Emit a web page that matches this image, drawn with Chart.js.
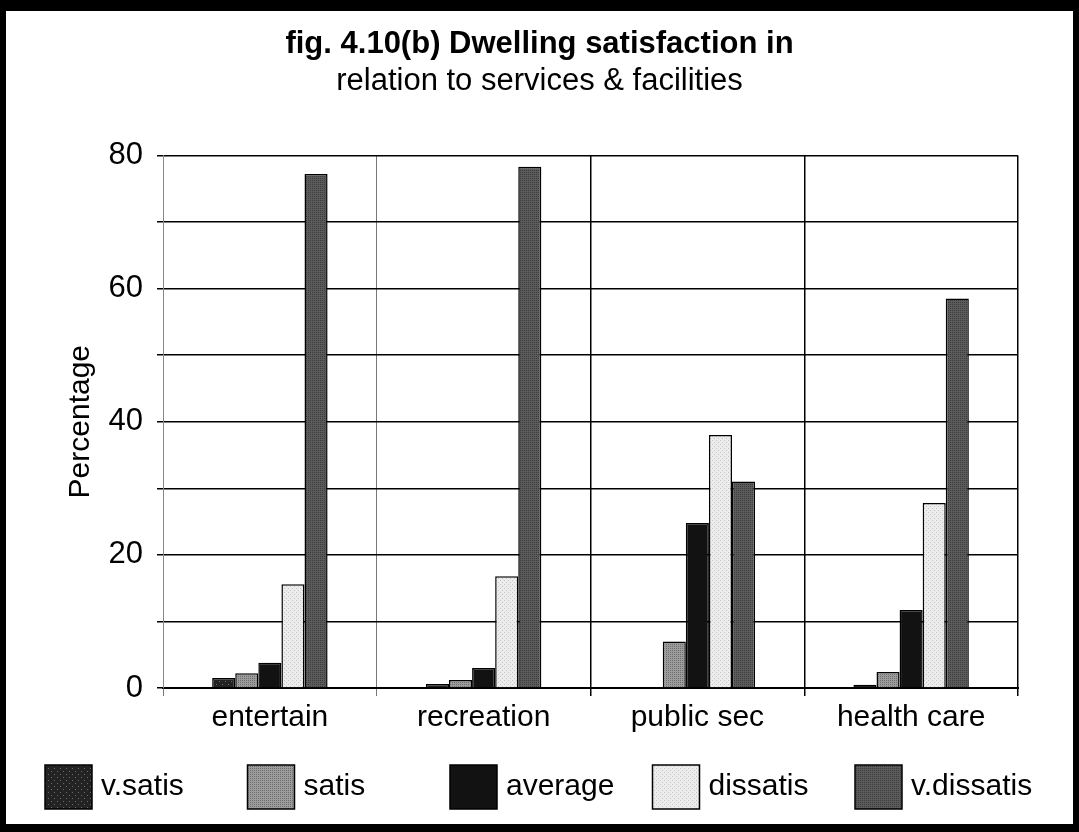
<!DOCTYPE html>
<html>
<head>
<meta charset="utf-8">
<script src="https://cdn.jsdelivr.net/npm/chart.js@4.4.1/dist/chart.umd.min.js"></script>
<style>
html,body{margin:0;padding:0;background:#fff;}
#wrap{width:1079px;height:832px;position:relative;}
</style>
</head>
<body>
<div id="wrap"><canvas id="c" width="1079" height="832"></canvas></div>
<script>
const categories = ["entertain", "recreation", "public sec", "health care"];
const seriesNames = ["v.satis", "satis", "average", "dissatis", "v.dissatis"];
const vSatis     = [1.5, 0.6, 0.0, 0.5];
const satis      = [2.2, 1.2, 7.0, 2.4];
const average    = [3.8, 3.0, 24.8, 11.7];
const dissatis   = [15.6, 16.8, 38.0, 27.8];
const vDissatis  = [77.2, 78.3, 31.0, 58.5];
const yTickLabels = [0, 20, 40, 60, 80];

const seriesValues = [vSatis, satis, average, dissatis, vDissatis];
const FONT = "'Liberation Sans', Arial, sans-serif";

// textured fills (deterministic tiles) imitating the scanned hatch patterns
function makePattern(base, dot, step, offsetRows) {
  const t = document.createElement('canvas');
  t.width = step * 2; t.height = step * 2;
  const g = t.getContext('2d');
  g.fillStyle = base; g.fillRect(0, 0, t.width, t.height);
  g.fillStyle = dot;
  g.fillRect(0, 0, 1, 1);
  g.fillRect(step, step, 1, 1);
  if (offsetRows) { g.fillRect(step, 0, 1, 1); g.fillRect(0, step, 1, 1); }
  return document.createElement('canvas').getContext('2d').createPattern(t, 'repeat');
}
const fills = [
  makePattern('#232323', '#6a6a6a', 3, false),
  makePattern('#9c9c9c', '#6e6e6e', 2, true),
  '#121212',
  makePattern('#ececec', '#c4c4c4', 2, false),
  makePattern('#5c5c5c', '#3a3a3a', 2, true)
];

const framePlugin = {
  id: 'frame',
  afterDraw(chart) {
    const ctx = chart.ctx;
    ctx.save();
    ctx.fillStyle = '#000';
    ctx.fillRect(0, 0, 1079, 11);
    ctx.fillRect(0, 0, 6, 832);
    ctx.fillRect(1073, 0, 6, 832);
    ctx.fillRect(0, 824, 1079, 8);
    ctx.restore();
  }
};

const legendPlugin = {
  id: 'customLegend',
  afterDraw(chart) {
    const ctx = chart.ctx;
    ctx.save();
    chart.data.datasets.forEach((ds, i) => {
      const x = 45 + 202.5 * i;
      const y = 765;
      ctx.fillStyle = ds.backgroundColor;
      ctx.fillRect(x, y, 47, 44);
      ctx.lineWidth = 1.5;
      ctx.strokeStyle = '#000';
      ctx.strokeRect(x, y, 47, 44);
      ctx.fillStyle = '#000';
      ctx.font = "30px " + FONT;
      ctx.textBaseline = 'middle';
      ctx.textAlign = 'left';
      ctx.fillText(ds.label, x + 56, y + 22);
    });
    ctx.restore();
  }
};

new Chart(document.getElementById('c'), {
  type: 'bar',
  data: {
    labels: categories,
    datasets: seriesNames.map((n, i) => ({
      label: n,
      data: seriesValues[i],
      backgroundColor: fills[i],
      borderColor: '#000',
      borderWidth: 1.5,
      barPercentage: 1.0,
      categoryPercentage: 0.54
    }))
  },
  options: {
    responsive: false,
    animation: false,
    devicePixelRatio: 1,
    layout: { padding: { left: 6, right: 6, top: 0, bottom: 100 } },
    plugins: {
      legend: { display: false },
      tooltip: { enabled: false },
      title: {
        display: true,
        text: "fig. 4.10(b) Dwelling satisfaction in",
        color: '#000',
        font: { family: FONT, size: 31, weight: 'bold' },
        padding: { top: 26, bottom: 0 }
      },
      subtitle: {
        display: true,
        text: "relation to services & facilities",
        color: '#000',
        font: { family: FONT, size: 31, weight: 'normal' },
        padding: { top: 0, bottom: 55 }
      }
    },
    scales: {
      x: {
        grid: {
          offset: true,
          color: (c) => (c.index === 0 || c.index === 1) ? '#777' : '#000',
          lineWidth: (c) => (c.index === 0 || c.index === 1) ? 1 : 1.5,
          tickLength: 8
        },
        border: { color: '#000', width: 2 },
        ticks: { color: '#000', font: { family: FONT, size: 30 }, padding: 4 },
        afterFit(scale) { scale.height = 44; }
      },
      y: {
        min: 0, max: 80,
        ticks: {
          stepSize: 10,
          color: '#000',
          font: { family: FONT, size: 31 },
          padding: 14,
          callback: (v) => yTickLabels.includes(v) ? String(v) : ''
        },
        grid: { color: '#000', lineWidth: 1.5, tickLength: 6 },
        border: { color: '#888', width: 1 },
        title: {
          display: true,
          text: 'Percentage',
          color: '#000',
          font: { family: FONT, size: 30 },
          padding: { top: 57, bottom: 0 }
        },
        afterFit(scale) { scale.width = 157; }
      },
      yRight: {
        position: 'right',
        min: 0, max: 80,
        ticks: { display: false },
        grid: { display: false, drawOnChartArea: false },
        border: { display: false },
        afterFit(scale) { scale.width = 55; }
      }
    }
  },
  plugins: [framePlugin, legendPlugin]
});
</script>
</body>
</html>
